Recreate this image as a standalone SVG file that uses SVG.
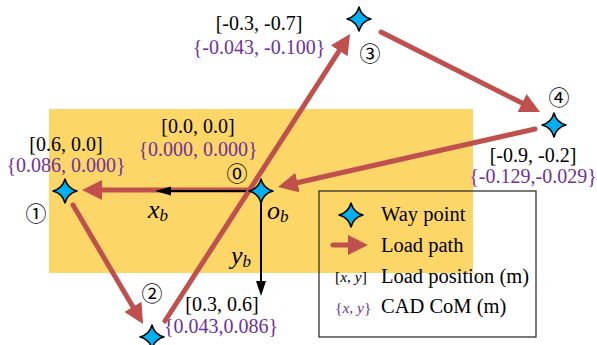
<svg xmlns="http://www.w3.org/2000/svg" width="597" height="345" viewBox="0 0 597 345">
<defs>
<style>
.path{stroke:#C0504D;stroke-width:5;stroke-linecap:round;fill:none;marker-end:url(#ah)}
.axis{stroke:#000;stroke-width:2;fill:none}
.star{fill:#00B0F0;stroke:#000;stroke-width:1.5;stroke-linejoin:round}
.t{font-family:'Liberation Serif','Times New Roman',serif}
.c{text-anchor:middle}
.p{fill:#7030A0}
.n{font-family:'Noto Sans CJK JP',sans-serif;font-size:21px;text-anchor:middle}
</style>
<marker id="ah" markerUnits="userSpaceOnUse" markerWidth="20" markerHeight="20" viewBox="0 0 20 20" refX="5" refY="10" orient="auto">
<path d="M0,0 L20,10 L0,20 Z" fill="#C0504D"/>
</marker>
<path id="st" d="M0,-12 Q2.5,-2.5 12,0 Q2.5,2.5 0,12 Q-2.5,2.5 -12,0 Q-2.5,-2.5 0,-12 Z"/>
</defs>
<rect x="49" y="109" width="424" height="164" fill="#FCD667"/>
<g id="legend">
<rect x="319" y="191" width="217" height="146" fill="none" stroke="#333" stroke-width="1.3"/>
<use href="#st" x="351" y="215" class="star"/>
<line x1="333" y1="245" x2="353" y2="245" class="path"/>
<text class="t" font-size="20.5" x="381" y="221">Way point</text>
<text class="t" font-size="20.5" x="381" y="252">Load path</text>
<text class="t" font-size="15.5" x="335" y="282">[<tspan font-style="italic">x</tspan>, <tspan font-style="italic">y</tspan>]</text>
<text class="t" font-size="20.5" x="381" y="283">Load position (m)</text>
<text class="t p" font-size="15.5" x="335" y="313">{<tspan font-style="italic">x</tspan>, <tspan font-style="italic">y</tspan>}</text>
<text class="t" font-size="20.5" x="381" y="313">CAD CoM (m)</text>
</g>
<g id="connectors">
<line x1="248" y1="190" x2="97" y2="190" class="path"/>
<g id="axes">
<line x1="261" y1="191" x2="170" y2="191" class="axis"/>
<polygon points="155,191 171,186.5 171,195.5" fill="#000"/>
<line x1="261" y1="191" x2="261" y2="282" class="axis"/>
<polygon points="261,296 256,281 266,281" fill="#000"/>
</g>
<line x1="73" y1="205" x2="135.4" y2="311.1" class="path"/>
<line x1="165" y1="321" x2="341.9" y2="46.6" class="path"/>
<line x1="381" y1="32" x2="526.6" y2="105.3" class="path"/>
<line x1="535" y1="129" x2="292.6" y2="183.7" class="path"/>
</g>
<g id="wp0">
<use href="#st" x="261" y="191" class="star"/>
<text class="t c" font-size="20" x="198" y="133">[0.0, 0.0]</text>
<text class="t c p" font-size="20" x="198" y="156">{0.000, 0.000}</text>
<text class="t" font-size="26" font-style="italic" x="267" y="219">o<tspan font-size="17" dy="3">b</tspan></text>
<text class="t" font-size="26" font-style="italic" x="148" y="218">x<tspan font-size="17" dy="3">b</tspan></text>
<text class="t" font-size="26" font-style="italic" x="231" y="264">y<tspan font-size="17" dy="3">b</tspan></text>
<text class="n" x="237" y="180.5">⓪</text>
</g>
<g id="wp1">
<use href="#st" x="65" y="191" class="star"/>
<text class="t c" font-size="20" x="66" y="151">[0.6, 0.0]</text>
<text class="t c p" font-size="20" x="66" y="172">{0.086, 0.000}</text>
<text class="n" x="36" y="221">①</text>
</g>
<g id="wp2">
<use href="#st" x="152" y="337" class="star"/>
<text class="t c" font-size="20" x="222" y="311">[0.3, 0.6]</text>
<text class="t c p" font-size="20" x="221" y="333">{0.043,0.086}</text>
<text class="n" x="152" y="301">②</text>
</g>
<g id="wp3">
<use href="#st" x="359" y="19" class="star"/>
<text class="t c" font-size="20" x="259" y="30">[-0.3, -0.7]</text>
<text class="t c p" font-size="20" x="259" y="54">{-0.043, -0.100}</text>
<text class="n" x="370" y="61">③</text>
</g>
<g id="wp4">
<use href="#st" x="554" y="125" class="star"/>
<text class="t c" font-size="20" x="533" y="162">[-0.9, -0.2]</text>
<text class="t c p" font-size="20" x="533" y="183">{-0.129,-0.029}</text>
<text class="n" x="559" y="105">④</text>
</g>
</svg>
